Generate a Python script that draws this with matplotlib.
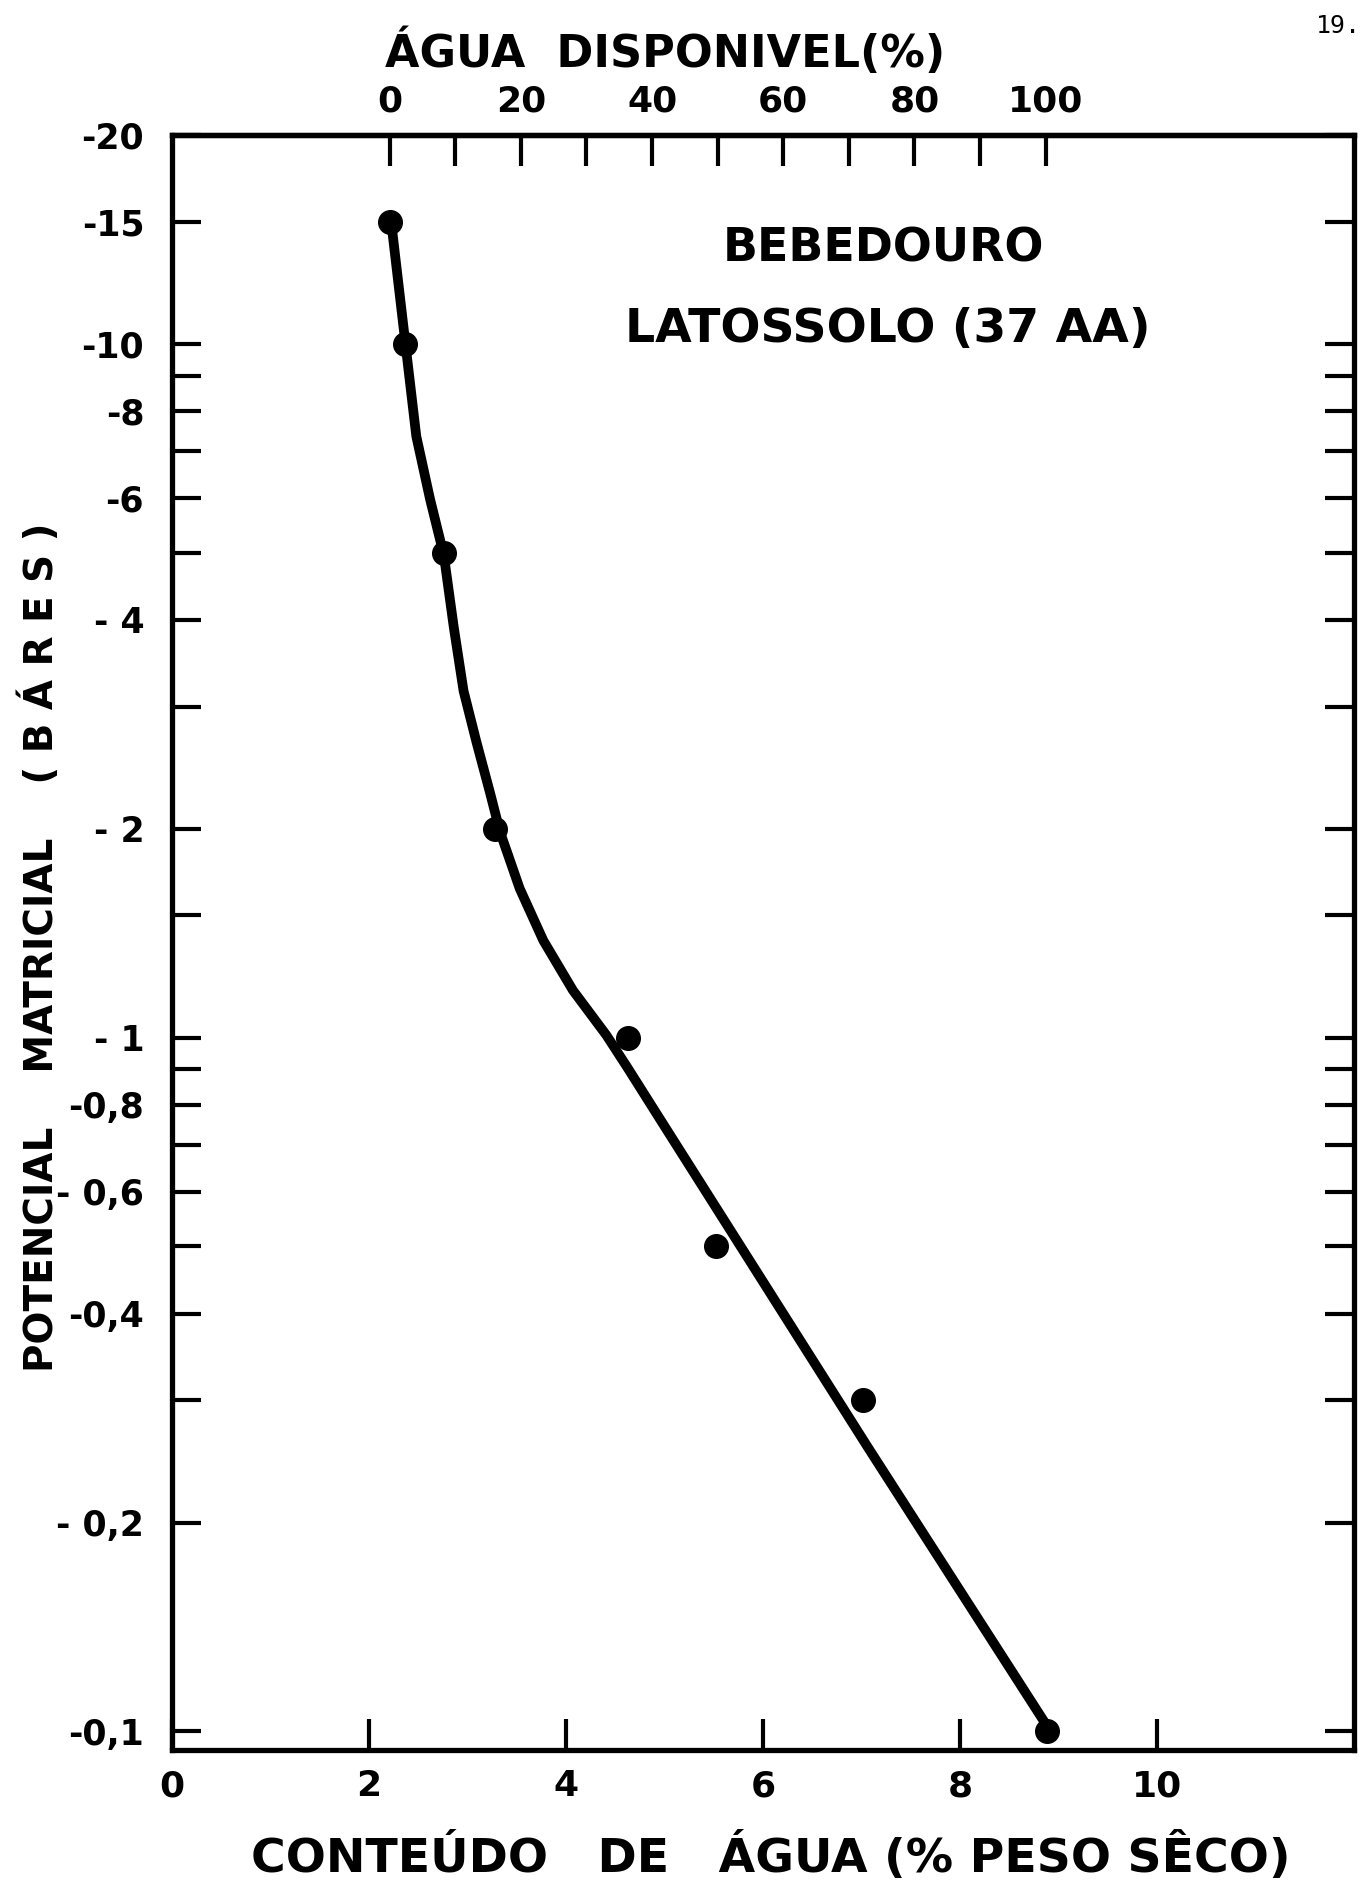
import matplotlib
matplotlib.use("Agg")
import matplotlib.pyplot as plt
from matplotlib.ticker import FixedLocator, NullLocator

# Pontos medidos: conteudo de agua (% peso seco) x potencial matricial (bares, em modulo)
agua = [2.21, 2.37, 2.76, 3.28, 4.63, 5.52, 7.02, 8.88]
potencial = [15, 10, 5, 2, 1, 0.5, 0.3, 0.1]

# Curva tracada a mao
curva_agua = [2.21, 2.23, 2.37, 2.48, 2.62, 2.76, 2.86, 2.96, 3.09, 3.23, 3.33,
              3.53, 3.77, 4.07, 4.41, 4.62, 4.99, 5.35, 7.07, 8.86]
curva_pot = [15.0, 14.8, 10.0, 7.36, 5.97, 4.96, 3.91, 3.16, 2.67, 2.25, 1.98,
             1.64, 1.38, 1.17, 1.008, 0.907, 0.749, 0.622, 0.256, 0.103]

# Agua disponivel: 0% em -15 bares, 100% em -0,1 bar
agua_pmp = 2.21
agua_cc = 8.87

y_ticks = [20, 15, 10, 9, 8, 7, 6, 5, 4, 3, 2, 1.5, 1, 0.9, 0.8, 0.7, 0.6,
           0.5, 0.4, 0.3, 0.2, 0.1]
y_labels = ['-20', '-15', '-10', '', '-8', '', '-6', '', '- 4', '', '- 2', '',
            '- 1', '', '-0,8', '', '- 0,6', '', '-0,4', '', '- 0,2', '-0,1']
x_ticks = [0, 2, 4, 6, 8, 10]
x_labels = ['0', '2', '4', '6', '8', '10']
disp_ticks = [0, 10, 20, 30, 40, 50, 60, 70, 80, 90, 100]
disp_labels = ['0', '', '20', '', '40', '', '60', '', '80', '', '100']

W, H = 1372, 1903
fig = plt.figure(figsize=(W / 100, H / 100), dpi=100)
fig.patch.set_facecolor('white')
ax = fig.add_axes([172 / W, 1 - 1750 / H, (1354 - 172) / W, (1750 - 135) / H])

ax.plot(curva_agua, curva_pot, color='black', linewidth=7,
        solid_capstyle='round', solid_joinstyle='round')
ax.plot(agua, potencial, 'o', color='black', markersize=17)

ax.set_yscale('log')
ax.set_ylim(0.094, 20)
ax.set_xlim(0, 12)

ax.yaxis.set_major_locator(FixedLocator(y_ticks))
ax.yaxis.set_minor_locator(NullLocator())
ax.set_yticklabels(y_labels)
ax.set_xticks(x_ticks)
ax.set_xticklabels(x_labels)

for s in ax.spines.values():
    s.set_linewidth(3.8)

ax.tick_params(axis='y', which='major', direction='in', length=21, width=3,
               left=True, right=True, pad=20, labelsize=25)
ax.tick_params(axis='x', which='major', direction='in', length=22, width=3,
               top=False, pad=14, labelsize=26)
for lbl in ax.get_yticklabels() + ax.get_xticklabels():
    lbl.set_fontweight('bold')


def para_disp(w):
    return (w - agua_pmp) / (agua_cc - agua_pmp) * 100


def de_disp(d):
    return agua_pmp + d / 100 * (agua_cc - agua_pmp)


sec = ax.secondary_xaxis('top', functions=(para_disp, de_disp))
sec.set_xticks(disp_ticks)
sec.set_xticklabels(disp_labels)
sec.tick_params(direction='in', length=22, width=3, pad=12, labelsize=26)
sec.spines['top'].set_linewidth(3.8)
for lbl in sec.get_xticklabels():
    lbl.set_fontweight('bold')

# Textos
fig.text(665 / W, 1 - 52 / H, 'ÁGUA  DISPONIVEL(%)', ha='center', va='center',
         fontsize=32, fontweight='bold')
fig.text(771 / W, 1 - 1858 / H, 'CONTEÚDO   DE   ÁGUA (% PESO SÊCO)',
         ha='center', va='center', fontsize=34, fontweight='bold')
fig.text(40 / W, 1 - 947 / H, 'POTENCIAL    MATRICIAL    ( B Á R E S )',
         ha='center', va='center', rotation=90, fontsize=28, fontweight='bold')
fig.text(883 / W, 1 - 249 / H, 'BEBEDOURO', ha='center', va='center',
         fontsize=33, fontweight='bold')
fig.text(888 / W, 1 - 330 / H, 'LATOSSOLO (37 AA)', ha='center', va='center',
         fontsize=34, fontweight='bold')
fig.text(1338 / W, 1 - 26 / H, '19.', ha='center', va='center', fontsize=18,
         family='DejaVu Sans Mono')

fig.savefig('out.png', dpi=100)
